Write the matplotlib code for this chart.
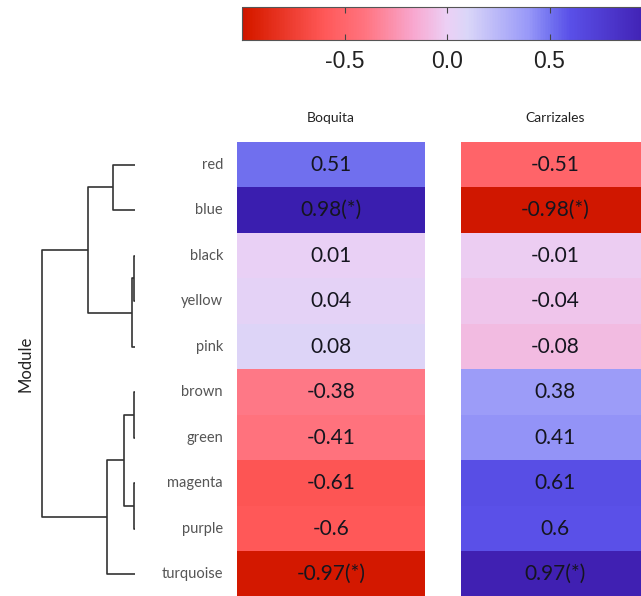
import numpy as np
import matplotlib
matplotlib.use("Agg")
import matplotlib.pyplot as plt
from matplotlib.colors import LinearSegmentedColormap, Normalize
from matplotlib.cm import ScalarMappable
from matplotlib.transforms import blended_transform_factory

# module names, top to bottom (dendrogram leaf order)
modules = ["red", "blue", "black", "yellow", "pink",
           "brown", "green", "magenta", "purple", "turquoise"]
sites = ["Boquita", "Carrizales"]

boquita = [0.51, 0.98, 0.01, 0.04, 0.08, -0.38, -0.41, -0.61, -0.6, -0.97]
carrizales = [-0.51, -0.98, -0.01, -0.04, -0.08, 0.38, 0.41, 0.61, 0.6, 0.97]
boquita_txt = ["0.51", "0.98(*)", "0.01", "0.04", "0.08", "-0.38", "-0.41", "-0.61", "-0.6", "-0.97(*)"]
carrizales_txt = ["-0.51", "-0.98(*)", "-0.01", "-0.04", "-0.08", "0.38", "0.41", "0.61", "0.6", "0.97(*)"]

# linkage: (node a, node b, merge height); leaves are 0..9, new nodes 10, 11, ...
linkage = [(2, 3, 1), (5, 6, 1), (7, 8, 1), (10, 4, 3), (11, 12, 11),
           (0, 1, 22), (14, 9, 28), (15, 13, 47), (17, 16, 93)]

cb_ticks = [-0.5, 0.0, 0.5]

# red -> pink -> lavender -> blue
cmap = LinearSegmentedColormap.from_list("rb", [
    (0.00, "#cc1400"), (0.02, "#d81c00"), (0.20, "#ff5858"), (0.30, "#ff7480"),
    (0.42, "#f8a8d0"), (0.50, "#ecd0f5"), (0.55, "#dad6f8"), (0.70, "#9898f8"),
    (0.75, "#7474f0"), (0.80, "#5a50e8"), (0.99, "#4020b2"), (1.00, "#2818a8")])
norm = Normalize(-1, 1)

plt.rcParams["font.family"] = ["Lato", "DejaVu Sans"]
plt.rcParams["axes.unicode_minus"] = False

W, H = 641, 596
fig = plt.figure(figsize=(W / 100, H / 100), dpi=100)


def fx(px):
    return px / W


def fy(px):
    return 1 - px / H


top, bot = 142, 597
cols = [(237, boquita, boquita_txt, sites[0]), (461, carrizales, carrizales_txt, sites[1])]
for left, vals, txt, name in cols:
    ax = fig.add_axes([fx(left), fy(bot), fx(188), (bot - top) / H])
    arr = np.array(vals).reshape(-1, 1)
    ax.imshow(arr, cmap=cmap, norm=norm, aspect="auto", interpolation="nearest")
    for i, t in enumerate(txt):
        ax.text(0, i, t, ha="center", va="center", fontsize=15, color="#15151f")
    ax.set_xlim(-0.5, 0.5)
    ax.set_ylim(len(modules) - 0.5, -0.5)
    ax.axis("off")
    ax.text(0.5, 1.04, name, transform=ax.transAxes, ha="center", va="bottom",
            fontsize=10, color="#222222")

# dendrogram
dax = fig.add_axes([fx(42), fy(bot), fx(135 - 42), (bot - top) / H])
pos = {i: (0.0, float(i)) for i in range(len(modules))}
for k, (a, b, h) in enumerate(linkage):
    xa, ya = pos[a]
    xb, yb = pos[b]
    dax.plot([xa, h, h, xb], [ya, ya, yb, yb], color="#333333", lw=1.2,
             solid_capstyle="butt", clip_on=False)
    pos[len(modules) + k] = (h, (ya + yb) / 2)
dax.set_xlim(linkage[-1][2], 0)
dax.set_ylim(len(modules) - 0.5, -0.5)
dax.axis("off")
lab_tr = blended_transform_factory(fig.transFigure, dax.transData)
for i, m in enumerate(modules):
    fig.text(fx(223), i, m, transform=lab_tr, ha="right", va="center",
             fontsize=10.5, color="#555555")
fig.text(fx(25), fy(364), "Module", rotation=90, ha="center", va="center",
         fontsize=12, color="#222222")

# colorbar
cax = fig.add_axes([fx(242), fy(40), fx(410), 33 / H])
cb = fig.colorbar(ScalarMappable(norm=norm, cmap=cmap), cax=cax, orientation="horizontal")
cb.set_ticks(cb_ticks)
cb.ax.tick_params(direction="in", top=True, length=4, width=0.8, color="#444444",
                  labelsize=16.5, pad=7, labelcolor="#222222")
for t in cb.ax.get_xticklabels():
    t.set_family(["Liberation Sans", "DejaVu Sans"])
cb.outline.set_edgecolor("#555555")
cb.outline.set_linewidth(0.8)

fig.savefig("out.png", dpi=100)
